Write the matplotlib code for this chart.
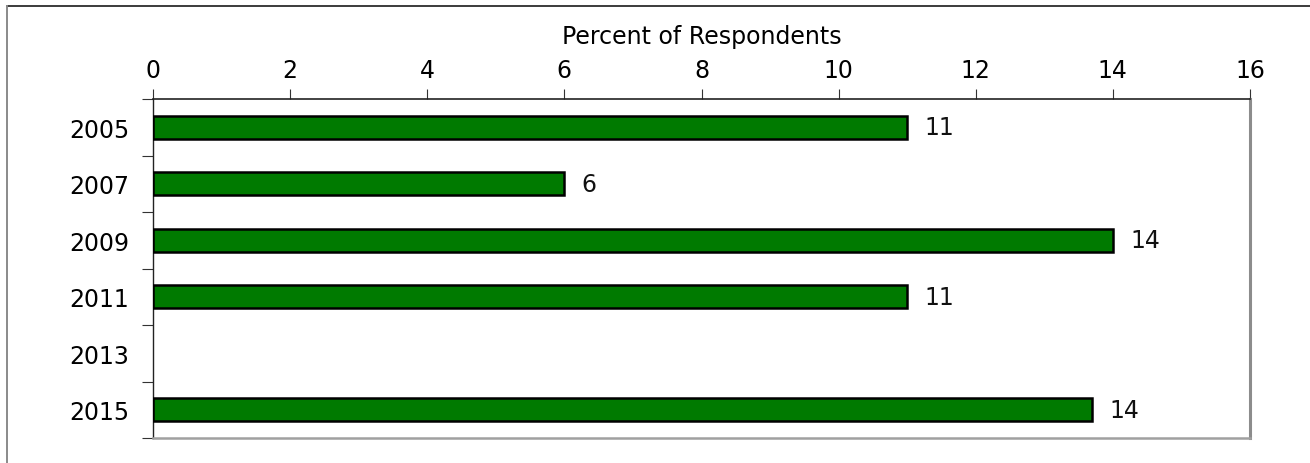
import matplotlib
matplotlib.use("Agg")
import matplotlib.pyplot as plt
from matplotlib.lines import Line2D
import numpy as np

# survey share by year (2013 not asked)
years = ["2005", "2007", "2009", "2011", "2013", "2015"]
percent = [11.0, 6.0, 14.0, 11.0, np.nan, 13.7]
x_ticks = [0, 2, 4, 6, 8, 10, 12, 14, 16]

BAR = "#007a00"
FS = 17

plt.rcParams["font.family"] = ["DejaVu Sans"]

fig = plt.figure(figsize=(13.10, 4.64), dpi=100)
fig.patch.set_facecolor("white")

# outer frame: dark top edge, grey left edge
fig.add_artist(Line2D([7 / 1310, 1.0], [1 - 7 / 464, 1 - 7 / 464],
                      transform=fig.transFigure, color="#1a1a1a", lw=1.2))
fig.add_artist(Line2D([7 / 1310, 7 / 1310], [0.0, 1 - 7 / 464],
                      transform=fig.transFigure, color="#8a8a8a", lw=1.4))

ax = fig.add_axes([153 / 1310, 1 - 439 / 464, 1097 / 1310, 339 / 464])

y = np.arange(len(years))
ax.barh(y, percent, height=0.41, color=BAR, edgecolor="black",
        linewidth=1.8, zorder=3)

for yi, v in zip(y, percent):
    if np.isnan(v):
        continue
    ax.text(v + 0.25, yi, f"{v:.0f}", va="center", ha="left",
            fontsize=FS, color="#111111")

ax.set_xlim(0, 16)
ax.set_ylim(len(years) - 0.5, -0.5)

ax.xaxis.tick_top()
ax.xaxis.set_label_position("top")
ax.set_xticks(x_ticks)
ax.set_xticklabels([str(t) for t in x_ticks], fontsize=FS)
ax.set_xlabel("Percent of Respondents", fontsize=FS, labelpad=11)
ax.tick_params(axis="x", direction="out", length=7, width=0.8,
               pad=5, color="#333333")

# category labels centred, ticks on the boundaries between categories
ax.set_yticks(np.arange(-0.5, len(years) + 0.5, 1.0))
ax.set_yticklabels([])
ax.set_yticks(y, minor=True)
ax.set_yticklabels(years, minor=True, fontsize=FS)
ax.tick_params(axis="y", which="major", direction="out", length=8,
               width=0.8, color="#333333")
ax.tick_params(axis="y", which="minor", length=0, pad=17)

ax.spines["top"].set_color("#222222")
ax.spines["top"].set_linewidth(1.2)
ax.spines["left"].set_color("#222222")
ax.spines["left"].set_linewidth(1.0)
ax.spines["right"].set_color("#8c8c8c")
ax.spines["right"].set_linewidth(2.2)
ax.spines["bottom"].set_color("#a0a0a0")
ax.spines["bottom"].set_linewidth(1.8)

fig.savefig("out.png", dpi=100, facecolor="white")
